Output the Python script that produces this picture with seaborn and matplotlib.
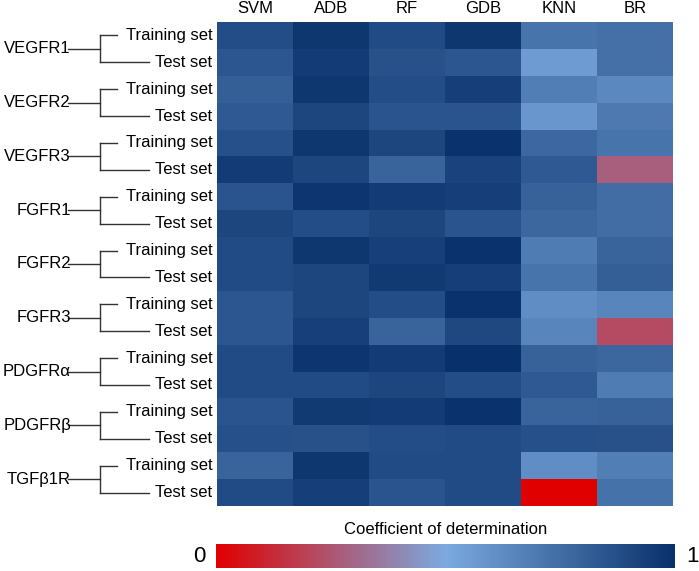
import numpy as np
import pandas as pd
import matplotlib
matplotlib.use("Agg")
import matplotlib.pyplot as plt
import matplotlib.transforms as mtransforms
from matplotlib.colors import LinearSegmentedColormap
import seaborn as sns

# datos
models = ["SVM", "ADB", "RF", "GDB", "KNN", "BR"]
targets = ["VEGFR1", "VEGFR2", "VEGFR3", "FGFR1", "FGFR2", "FGFR3",
           "PDGFRα", "PDGFRβ", "TGFβ1R"]
sets = ["Training set", "Test set"]

svm = [0.88, 0.84, 0.81, 0.83, 0.87, 0.95, 0.85, 0.91, 0.89,
       0.89, 0.84, 0.84, 0.89, 0.89, 0.85, 0.87, 0.79, 0.89]
adb = [0.97, 0.95, 0.97, 0.91, 0.97, 0.91, 0.98, 0.88, 0.97,
       0.91, 0.91, 0.93, 0.98, 0.89, 0.96, 0.86, 0.97, 0.94]
rf = [0.89, 0.86, 0.88, 0.85, 0.91, 0.79, 0.95, 0.91, 0.93,
      0.96, 0.88, 0.79, 0.95, 0.91, 0.95, 0.88, 0.89, 0.85]
gdb = [0.97, 0.84, 0.94, 0.85, 0.99, 0.92, 0.94, 0.85, 0.99,
       0.94, 0.99, 0.90, 1.00, 0.88, 0.99, 0.89, 0.89, 0.89]
knn = [0.72, 0.56, 0.68, 0.58, 0.77, 0.83, 0.80, 0.78, 0.69,
       0.72, 0.62, 0.65, 0.80, 0.83, 0.79, 0.87, 0.62, 0.00]
br = [0.74, 0.74, 0.64, 0.70, 0.72, 0.28, 0.75, 0.75, 0.79,
      0.81, 0.65, 0.22, 0.78, 0.69, 0.80, 0.86, 0.68, 0.73]

row_labels = [s for t in targets for s in sets]
data = pd.DataFrame({"SVM": svm, "ADB": adb, "RF": rf, "GDB": gdb,
                     "KNN": knn, "BR": br}, index=row_labels)

cmap = LinearSegmentedColormap.from_list(
    "r2", [(0.0, "#E00000"), (0.5, "#7BAAE0"), (1.0, "#08306A")])

plt.rcParams["font.family"] = ["Liberation Sans", "DejaVu Sans"]

W, H = 699, 571
fig = plt.figure(figsize=(W / 100, H / 100), dpi=100)
ax = fig.add_axes([217 / W, 1 - 506 / H, 456 / W, 484 / H])
cax = fig.add_axes([216 / W, 1 - 568 / H, 459 / W, 24 / H])

sns.heatmap(data, ax=ax, cmap=cmap, vmin=0, vmax=1, cbar_ax=cax,
            cbar_kws={"orientation": "horizontal"},
            xticklabels=models, yticklabels=row_labels)

ax.xaxis.tick_top()
ax.tick_params(axis="x", length=0, pad=4, labelsize=12)
ax.tick_params(axis="y", length=0, pad=3.5, labelsize=12)
plt.setp(ax.get_yticklabels(), rotation=0)
plt.setp(ax.get_xticklabels(), rotation=0)
ax.set_xlabel("")
ax.set_ylabel("")

# barra de color
cax.set_xticks([])
cax.set_yticks([])
for s in cax.spines.values():
    s.set_visible(False)
fig.text(0.5 * (216 + 675) / W, 1 - 529 / H, "Coefficient of determination",
         ha="center", va="center", fontsize=12)
fig.text(205 / W, 1 - 556 / H, "0", ha="right", va="center", fontsize=16)
fig.text(686 / W, 1 - 556 / H, "1", ha="left", va="center", fontsize=16)

# corchetes de cada objetivo
tr = mtransforms.blended_transform_factory(fig.transFigure, ax.transData)
for i, t in enumerate(targets):
    y_tr = 2 * i + 0.5
    y_te = 2 * i + 1.5
    y_mid = 2 * i + 1.0
    kw = dict(color="#333333", lw=1.0, transform=tr, clip_on=False)
    ax.plot([68 / W, 100 / W], [y_mid, y_mid], **kw)
    ax.plot([100 / W, 100 / W], [y_tr, y_te], **kw)
    ax.plot([100 / W, 117 / W], [y_tr, y_tr], **kw)
    ax.plot([100 / W, 149 / W], [y_te, y_te], **kw)
    ax.text(71 / W, y_mid, t, transform=tr, ha="right", va="center",
            fontsize=12)

fig.savefig("out.png", dpi=100)
